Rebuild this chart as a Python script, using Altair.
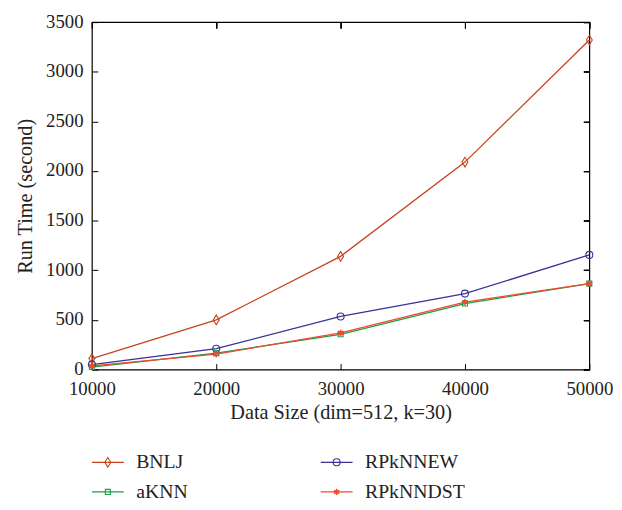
import altair as alt
import pandas as pd

sizes = [10000, 20000, 30000, 40000, 50000]
series_names = ["BNLJ", "RPkNNEW", "aKNN", "RPkNNDST"]
bnlj = [110, 500, 1140, 2090, 3320]
rpknnew = [50, 210, 535, 765, 1155]
aknn = [25, 165, 355, 665, 865]
rpknndst = [38, 155, 370, 680, 865]
x_ticks = [10000, 20000, 30000, 40000, 50000]
y_ticks = [0, 500, 1000, 1500, 2000, 2500, 3000, 3500]

colors = ["#c6421d", "#3a3296", "#1f9a4e", "#ef4a2b"]
shapes = [
    "M0,-1L0.62,0L0,1L-0.62,0Z",
    "circle",
    "square",
    "M0,-1L0,1M-0.87,-0.5L0.87,0.5M-0.87,0.5L0.87,-0.5",
]
marker_sizes = [95, 50, 26, 40]
marker_widths = [1.1, 1.1, 1.1, 1.6]

rows = []
for name, vals in zip(series_names, [bnlj, rpknnew, aknn, rpknndst]):
    for s, v in zip(sizes, vals):
        rows.append({"size": s, "time": v, "series": name})
df = pd.DataFrame(rows)

FONT = "Liberation Serif"
W, H = 504, 352

xs = alt.Scale(domain=[10000, 50000], nice=False)
ys = alt.Scale(domain=[0, 3500], nice=False)
col = alt.Scale(domain=series_names, range=colors)


def tick_axis(orient, vals, labels, title=None, label_pad=4, title_pad=8, label_offset=0):
    kw = dict(
        orient=orient, values=vals, domain=False, tickSize=6, offset=-6,
        tickColor="black", tickWidth=1, labels=labels, grid=False,
    )
    if labels:
        kw.update(labelFont=FONT, labelFontSize=19, labelColor="#222",
                  labelPadding=label_pad, format="d", labelFlush=False,
                  labelOverlap=False, labelOffset=label_offset)
    if title:
        kw.update(title=title, titleFont=FONT, titleFontSize=20.5,
                  titleFontWeight="normal", titleColor="#222",
                  titlePadding=title_pad)
    else:
        kw.update(title=None)
    return alt.Axis(**kw)


base = alt.Chart(df)

lines = base.mark_line(strokeWidth=1.3).encode(
    x=alt.X("size:Q", scale=xs,
            axis=tick_axis("bottom", x_ticks, True, "Data Size (dim=512, k=30)", label_pad=10, title_pad=5)),
    y=alt.Y("time:Q", scale=ys,
            axis=tick_axis("left", y_ticks, True, "Run Time (second)", label_pad=9, title_pad=10,
                           label_offset=-1)),
    color=alt.Color("series:N", scale=col, legend=None),
    detail="series:N",
)

pts_layers = []
for name, c, sh, sz, sw in zip(series_names, colors, shapes, marker_sizes, marker_widths):
    pts_layers.append(
        base.transform_filter(alt.datum.series == name).mark_point(
            shape=sh, filled=False, color=c, size=sz, strokeWidth=sw, opacity=1
        ).encode(
            x=alt.X("size:Q", scale=xs, axis=tick_axis("top", x_ticks, False)),
            y=alt.Y("time:Q", scale=ys, axis=tick_axis("right", y_ticks, False)),
        )
    )

main = alt.layer(lines, *pts_layers).resolve_axis(x="independent", y="independent").properties(
    width=W, height=H
)

# custom legend: two columns, two rows
legend_col = [0, 1, 0, 1]
legend_row = [0, 0, 1, 1]
leg_rows = []
for name, cx, ry in zip(series_names, legend_col, legend_row):
    x0 = cx * 0.46
    leg_rows.append({"series": name, "x0": x0, "x1": x0 + 0.064, "xm": x0 + 0.032,
                     "xt": x0 + 0.089, "row": ry})
ldf = pd.DataFrame(leg_rows)
lx = alt.Scale(domain=[0, 1], nice=False)
ly = alt.Scale(domain=[-0.5, 1.5], nice=False, reverse=True)
lbase = alt.Chart(ldf)
lrule = lbase.mark_rule(strokeWidth=1.3).encode(
    x=alt.X("x0:Q", scale=lx, axis=None), x2="x1:Q",
    y=alt.Y("row:Q", scale=ly, axis=None),
    color=alt.Color("series:N", scale=col, legend=None),
)
lpts = []
for name, c, sh, sz, sw in zip(series_names, colors, shapes, marker_sizes, marker_widths):
    lpts.append(
        lbase.transform_filter(alt.datum.series == name).mark_point(
            shape=sh, filled=False, color=c, size=sz, strokeWidth=sw, opacity=1
        ).encode(
            x=alt.X("xm:Q", scale=lx, axis=None),
            y=alt.Y("row:Q", scale=ly, axis=None),
        )
    )
ltext = lbase.mark_text(align="left", baseline="middle", font=FONT, fontSize=20, color="#222").encode(
    x=alt.X("xt:Q", scale=lx, axis=None),
    y=alt.Y("row:Q", scale=ly, axis=None),
    text="series:N",
)
legend = alt.layer(lrule, *lpts, ltext).properties(
    width=W, height=60, view=alt.ViewBackground(stroke=None)
)

chart = alt.vconcat(main, legend, spacing=23).properties(
    padding={"left": 7, "top": 0, "right": 0, "bottom": 0}
).configure_view(stroke="black", strokeWidth=1.2)

chart.save("out.html", embed_options={"renderer": "svg", "actions": False})
